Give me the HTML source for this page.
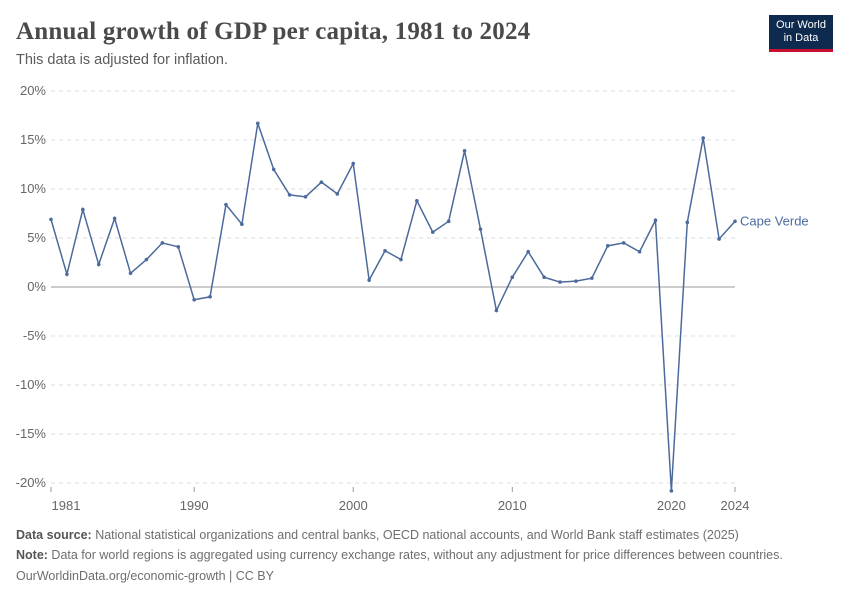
<!DOCTYPE html>
<html><head><meta charset="utf-8">
<style>
body{margin:0;background:#fff;font-family:"Liberation Sans",sans-serif;}
#wrap{position:relative;width:850px;height:600px;overflow:hidden;}
.title{position:absolute;left:16px;top:18px;font-family:"Liberation Serif",serif;font-size:25px;font-weight:bold;color:#4a4a4a;letter-spacing:0.2px;}
.sub{position:absolute;left:16px;top:52px;font-size:14.5px;color:#5b5b5b;}
.logo{position:absolute;left:769px;top:15px;width:64px;height:37px;background:#0e2a4f;border-bottom:3px solid #c8102e;color:#fff;font-size:11px;text-align:center;line-height:13px;padding-top:4px;box-sizing:border-box;}
.foot{position:absolute;left:16px;font-size:12.5px;color:#6e6e6e;}
.foot b{color:#555;}
</style></head><body>
<div id="wrap">
<div class="title">Annual growth of GDP per capita, 1981 to 2024</div>
<div class="sub">This data is adjusted for inflation.</div>
<div class="logo">Our World<br>in Data</div>
<svg id="chart" width="850" height="600" style="position:absolute;left:0;top:0"></svg>
<div class="foot" style="top:528px"><b>Data source:</b> National statistical organizations and central banks, OECD national accounts, and World Bank staff estimates (2025)</div>
<div class="foot" style="top:548px"><b>Note:</b> Data for world regions is aggregated using currency exchange rates, without any adjustment for price differences between countries.</div>
<div class="foot" style="top:569px">OurWorldinData.org/economic-growth | CC BY</div>
</div>
<script>
const years=[1981,1982,1983,1984,1985,1986,1987,1988,1989,1990,1991,1992,1993,1994,1995,1996,1997,1998,1999,2000,2001,2002,2003,2004,2005,2006,2007,2008,2009,2010,2011,2012,2013,2014,2015,2016,2017,2018,2019,2020,2021,2022,2023,2024];
const growth=[6.9,1.3,7.9,2.3,7.0,1.4,2.8,4.5,4.1,-1.3,-1.0,8.4,6.4,16.7,12.0,9.4,9.2,10.7,9.5,12.6,0.7,3.7,2.8,8.8,5.6,6.7,13.9,5.9,-2.4,1.0,3.6,1.0,0.5,0.6,0.9,4.2,4.5,3.6,6.8,-20.8,6.6,15.2,4.9,6.7];
const yTicks=[20,15,10,5,0,-5,-10,-15,-20];
const xTicks=[1981,1990,2000,2010,2020,2024];
const NS="http://www.w3.org/2000/svg";
const svg=document.getElementById('chart');
const x=v=>51+(v-1981)*(735-51)/(2024-1981);
const y=v=>287-v*9.8;
function mk(t,a){const e=document.createElementNS(NS,t);for(const k in a)e.setAttribute(k,a[k]);svg.appendChild(e);return e;}
yTicks.forEach(t=>{
 const l=mk('line',{x1:51,x2:735,y1:y(t),y2:y(t),stroke:t===0?'#9a9a9a':'#ddd','stroke-dasharray':t===0?'':'4,4'});
 
 
 const tx=mk('text',{x:46,y:y(t)+4,'text-anchor':'end','font-size':13,fill:'#666','font-family':'Liberation Sans'});
 tx.textContent=t+'%';
 
 
});
xTicks.forEach(t=>{
 const l=mk('line',{x1:x(t),x2:x(t),y1:487,y2:492,stroke:'#999'});
 
 
 const tx=mk('text',{x:x(t)+(t===1981?15:0),y:510,'text-anchor':'middle','font-size':13,fill:'#666','font-family':'Liberation Sans'});
 tx.textContent=t;
 
 
});
const p=mk('polyline',{points:years.map((v,i)=>x(v)+','+y(growth[i])).join(' '),fill:'none',stroke:'#4c6a9c','stroke-width':1.5});


years.forEach((v,i)=>{
 const c=mk('circle',{cx:x(v),cy:y(growth[i]),r:1.8,fill:'#4c6a9c'});
 
 
});
const lb=mk('text',{x:740,y:y(growth[growth.length-1])+4,'font-size':13,fill:'#4c6a9c','font-family':'Liberation Sans'});
lb.textContent='Cape Verde';


</script>
</body></html>
